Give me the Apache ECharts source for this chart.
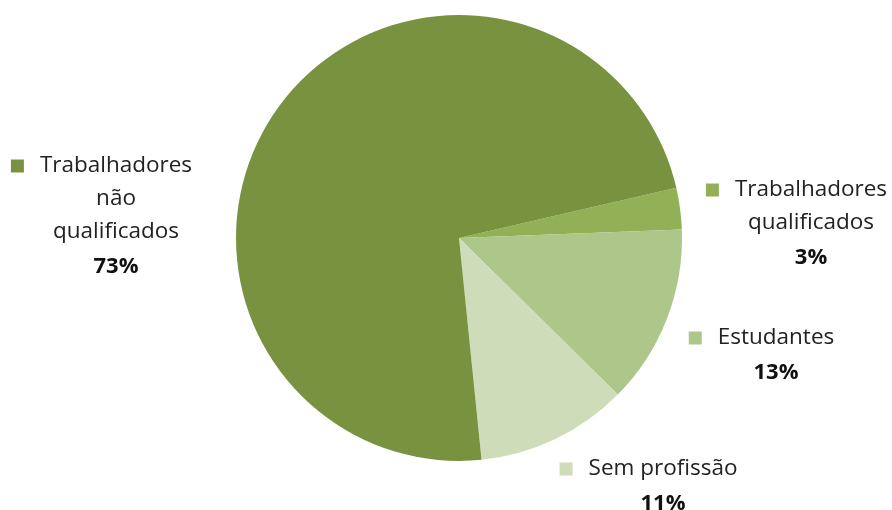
<!DOCTYPE html>
<html><head><meta charset="utf-8">
<script src="https://cdn.jsdelivr.net/npm/echarts@6/dist/echarts.min.js"></script>
<style>html,body{margin:0;padding:0;background:#fff}#c{width:892px;height:510px}</style>
</head><body><div id="c"></div>
<script>
var categories = ['Trabalhadores\nqualificados', 'Estudantes', 'Sem profissão', 'Trabalhadores\nnão\nqualificados'];
var values = [3, 13, 11, 73];
var colors = ['#92B055', '#ADC68A', '#CFDCB9', '#78923F'];
// centre x of text block, y of first-line centre
var labelPos = [[811, 190], [776, 338], [663, 469], [116, 166]];

var rich = {
  t: {fontSize: 22.5, color: '#222', lineHeight: 33, fontFamily: 'Open Sans'},
  p: {fontSize: 22, color: '#111', fontWeight: 'bold', lineHeight: 36, fontFamily: 'Open Sans'},
  sp: {width: 16, height: 13},
  sp2: {width: 29, height: 13}
};
colors.forEach(function (c, i) {
  rich['m' + i] = {width: 13, height: 13, backgroundColor: c};
});

var chart = echarts.init(document.getElementById('c'), null, {renderer: 'canvas'});
chart.setOption({
  animation: false,
  series: [{
    type: 'pie',
    center: [459, 238],
    radius: 223,
    startAngle: 13,
    clockwise: true,
    data: categories.map(function (n, i) {
      return {name: n, value: values[i], itemStyle: {color: colors[i]}};
    }),
    label: {
      show: true,
      position: 'outside',
      align: 'center',
      overflow: 'none',
      fontFamily: 'Open Sans',
      formatter: function (p) {
        var lines = p.name.split('\n');
        var out = [];
        lines.forEach(function (l, k) {
          if (k === 0) out.push('{m' + p.dataIndex + '|}{sp|}{t|' + l + '}{sp2|}');
          else out.push('{t|' + l + '}');
        });
        out.push('{p|' + Math.round(p.percent) + '%}');
        return out.join('\n');
      },
      rich: rich
    },
    labelLine: {show: false},
    labelLayout: function (p) {
      var pos = labelPos[p.dataIndex];
      return {x: pos[0], y: pos[1] - 16.5, align: 'center', verticalAlign: 'top'};
    }
  }]
});
</script></body></html>
